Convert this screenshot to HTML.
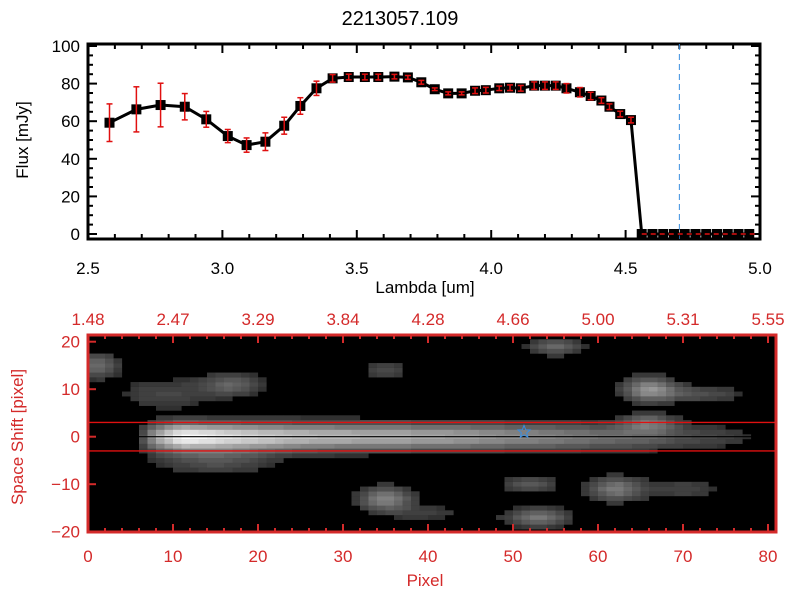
<!DOCTYPE html>
<html><head><meta charset="utf-8"><style>
html,body{margin:0;padding:0;background:#fff;}
svg{display:block;font-family:"Liberation Sans",sans-serif;}
</style></head><body>
<svg id="chart" width="800" height="600" viewBox="0 0 800 600">
<rect width="800" height="600" fill="#fff"/>
<text x="400" y="25" font-size="20" text-anchor="middle">2213057.109</text>
<g id="topPanel"></g>
<g id="botPanel"></g>
</svg>
<script>
// ---- spectrum data ----
const lambdas=[2.58,2.68,2.77,2.86,2.94,3.02,3.09,3.16,3.23,3.29,3.35,3.41,3.47,3.53,3.58,3.64,3.69,3.74,3.79,3.84,3.89,3.94,3.98,4.03,4.07,4.11,4.16,4.20,4.24,4.28,4.33,4.37,4.41,4.44,4.48,4.52,4.56,4.60,4.64,4.68,4.72,4.76,4.80,4.84,4.88,4.92,4.96];
const flux=[59.2,66.3,68.6,67.7,61,52.1,47.3,49.1,57.6,68.1,77.5,82.8,83.5,83.5,83.5,83.7,83.3,80.7,77,74.8,74.8,76.2,76.5,77.5,77.8,77.5,78.9,78.9,78.9,77.5,75.4,73.4,71,67.7,63.8,60.6,0,0,0,0,0,0,0,0,0,0,0];
const fluxErr=[10,12,11.6,7,4.2,3.5,3.8,4.7,4.5,4.4,3.8,2,1.5,1.5,1.5,1.2,1,1,0.7,0.8,0.8,1.5,1.5,1.2,1.5,1.5,2,2,2,2.5,2.5,2,1.5,1.5,1.5,1.5,0,0,0,0,0,0,0,0,0,0,0];
const xTicksTop=[2.5,3.0,3.5,4.0,4.5,5.0];
const xTickLabelsTop=["2.5","3.0","3.5","4.0","4.5","5.0"];
const yTicksTop=[0,20,40,60,80,100];
const markerLambda=4.70;
// ---- image panel data ----
const pixTicks=[0,10,20,30,40,50,60,70,80];
const lambdaTopLabels=["1.48","2.47","3.29","3.84","4.28","4.66","5.00","5.31","5.55"];
const shiftTicks=[20,10,0,-10,-20];
const apertureShift=[3,-3];
const starPos=[51.3,1];
const traceCols=[6,8,11,15,20,25,30,35,40,45,50,55,60,65,70,75,78];
const traceAmp=[0.1,0.6,1.0,0.9,0.8,0.72,0.68,0.65,0.62,0.57,0.5,0.45,0.38,0.32,0.22,0.15,0.08];
// blobs: [pixel, shift, amplitude, sigmaX(pix), sigmaY(shift)]
const blobs=[[1,15,0.35,1.8,1.8],[17,11,0.3,2.5,1.7],[9,9,0.18,4,2.5],[35,14,0.2,1.8,1.5],[35,-13,0.45,2.2,1.8],[55,19,0.33,2.2,1.3],[66,10,0.5,2.2,1.8],[72,9,0.22,3.5,1.3],[66,3,0.33,2.2,1.3],[52,-10,0.28,2.2,1.3],[53,-17,0.4,2.6,1.4],[62,-11,0.4,2.2,1.8],[70,-11,0.16,3.5,1.8],[15,-5,0.22,5,2.2],[40,-16,0.13,4,1.3]];

const NS="http://www.w3.org/2000/svg";
function mk(tag,attrs,parent){const e=document.createElementNS(NS,tag);for(const k in attrs)e.setAttribute(k,attrs[k]);parent.appendChild(e);return e;}

// ===== top panel =====
const topG=document.getElementById('topPanel');
const TL=88,TR=760,TT=44,TB=239;
const sx=v=>TL+(v-2.5)/2.5*(TR-TL);
const sy=v=>234-v*1.88;
let e;
e=mk('rect',{x:TL,y:TT,width:TR-TL,height:TB-TT,fill:'none',stroke:'#000','stroke-width':3},topG);


for(let i=0;i<=25;i++){const v=2.5+i*0.1;const x=sx(v);const L=(i%5==0)?9:5;
 mk('line',{x1:x,y1:TB,x2:x,y2:TB-L,stroke:'#000','stroke-width':2},topG);
 mk('line',{x1:x,y1:TT,x2:x,y2:TT+L,stroke:'#000','stroke-width':2},topG);}
xTicksTop.forEach((v,i)=>{e=mk('text',{x:sx(v),y:274,'font-size':17,'text-anchor':'middle'},topG);e.textContent=xTickLabelsTop[i];
 
 });
for(let v=0;v<=100;v+=5){const y=sy(v);const L=(v%20==0)?9:5;
 mk('line',{x1:TL,y1:y,x2:TL+L,y2:y,stroke:'#000','stroke-width':2},topG);
 mk('line',{x1:TR,y1:y,x2:TR-L,y2:y,stroke:'#000','stroke-width':2},topG);}
yTicksTop.forEach(v=>{e=mk('text',{x:80,y:sy(v)+6,'font-size':17,'text-anchor':'end'},topG);e.textContent=String(v);
 
 });
e=mk('text',{x:425,y:293,'font-size':17,'text-anchor':'middle'},topG);e.textContent='Lambda [um]';


e=mk('text',{x:0,y:0,'font-size':17,'text-anchor':'middle',transform:'translate(28,140) rotate(-90)'},topG);e.textContent='Flux [mJy]';


e=mk('line',{x1:sx(markerLambda),y1:TT,x2:sx(markerLambda),y2:TB,stroke:'#3a8ee0','stroke-width':1,'stroke-dasharray':'6,4'},topG);


e=mk('polyline',{points:lambdas.map((l,i)=>sx(l)+','+sy(flux[i])).join(' '),fill:'none',stroke:'#000','stroke-width':3},topG);


lambdas.forEach((l,i)=>{const x=sx(l),y=sy(flux[i]);
 e=mk('rect',{x:x-5,y:y-5,width:10,height:10,fill:'#000'},topG);
 
 
 if(fluxErr[i]>0){const y1=sy(flux[i]+fluxErr[i]),y2=sy(flux[i]-fluxErr[i]);
  const g=mk('g',{stroke:'#e01010','stroke-width':1.5},topG);
  
  
  mk('line',{x1:x,y1:y1,x2:x,y2:y2},g);mk('line',{x1:x-3,y1:y1,x2:x+3,y2:y1},g);mk('line',{x1:x-3,y1:y2,x2:x+3,y2:y2},g);}});
e=mk('line',{x1:sx(4.56),y1:sy(0),x2:TR-2,y2:sy(0),stroke:'#e01010','stroke-width':1.5,'stroke-dasharray':'5,4'},topG);



// ===== bottom panel =====
const botG=document.getElementById('botPanel');
const BL=88,BR=776,BT=335,BB=532;
const px=p=>BL+p*8.5;
const py=s=>436.7-s*4.75;
e=mk('rect',{x:BL,y:BT,width:BR-BL,height:BB-BT,fill:'#000'},botG);


function interp(p){if(p<traceCols[0]||p>traceCols[traceCols.length-1])return 0;
 for(let i=0;i<traceCols.length-1;i++){if(p<=traceCols[i+1]){const t=(p-traceCols[i])/(traceCols[i+1]-traceCols[i]);return traceAmp[i]+(traceAmp[i+1]-traceAmp[i])*t;}}return 0;}
const cells=mk('g',{},botG);


for(let c=0;c<81;c++){for(let r=-20;r<=20;r++){
 let v=interp(c+0.5)*Math.exp(-(r*r)/(2*2.0*2.0));
 blobs.forEach(b=>{const dx=(c+0.5-b[0])/b[3],dy=(r-b[1])/b[4];v+=b[2]*Math.exp(-(dx*dx+dy*dy)/2);});
 v=Math.min(1,v);if(v<0.09)continue;
 const g=Math.round(Math.min(255,30+v*225)/8)*8;
 const rc=mk('rect',{x:px(c),y:py(r)-2.4,width:8.6,height:4.9,fill:`rgb(${g},${g},${g})`},cells);
 
 }}
e=mk('line',{x1:BL,y1:py(0),x2:BR,y2:py(0),stroke:'#000','stroke-width':1.2},botG);


apertureShift.forEach(s=>{e=mk('line',{x1:BL,y1:py(s),x2:BR,y2:py(s),stroke:'#e01010','stroke-width':1.3},botG);
 
 });
(function(){const cx=px(starPos[0]),cy=py(starPos[1]);let pts=[];for(let i=0;i<10;i++){const a=-Math.PI/2+i*Math.PI/5,R=i%2?2.8:6.5;pts.push((cx+R*Math.cos(a)).toFixed(1)+','+(cy+R*Math.sin(a)).toFixed(1));}
 e=mk('polygon',{points:pts.join(' '),fill:'none',stroke:'#3a8ee0','stroke-width':1},botG);
 
 })();
const RED='#d42a2a';
e=mk('rect',{x:BL,y:BT,width:BR-BL,height:BB-BT,fill:'none',stroke:RED,'stroke-width':3},botG);


for(let p=0;p<=80;p+=2){const x=px(p);const L=(p%10==0)?8:4;
 mk('line',{x1:x,y1:BB,x2:x,y2:BB-L,stroke:RED,'stroke-width':2},botG);
 mk('line',{x1:x,y1:BT,x2:x,y2:BT+L,stroke:RED,'stroke-width':2},botG);}
pixTicks.forEach((p,i)=>{e=mk('text',{x:px(p),y:562,'font-size':17,'text-anchor':'middle',fill:RED},botG);e.textContent=String(p);
 
 
 e=mk('text',{x:px(p),y:325,'font-size':17,'text-anchor':'middle',fill:RED},botG);e.textContent=lambdaTopLabels[i];
 
 });
shiftTicks.forEach(s=>{const y=py(s);mk('line',{x1:BL,y1:y,x2:BL+8,y2:y,stroke:RED,'stroke-width':2},botG);
 e=mk('text',{x:80,y:y+6,'font-size':17,'text-anchor':'end',fill:RED},botG);e.textContent=s<0?'\u2212'+(-s):String(s);
 
 });
e=mk('text',{x:425,y:586,'font-size':17,'text-anchor':'middle',fill:RED},botG);e.textContent='Pixel';


e=mk('text',{x:0,y:0,'font-size':17,'text-anchor':'middle',fill:RED,transform:'translate(23,437) rotate(-90)'},botG);e.textContent='Space Shift [pixel]';


</script>
</body></html>
